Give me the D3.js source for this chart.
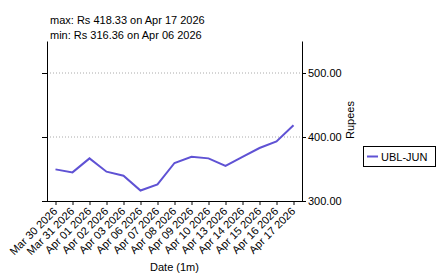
<!DOCTYPE html>
<html>
<head>
<meta charset="utf-8">
<script src="https://cdn.jsdelivr.net/npm/d3@7"></script>
<style>
  body { margin: 0; background: #fff; }
  text { font-family: "Liberation Sans", Arial, sans-serif; }
</style>
</head>
<body>
<div id="chart"></div>
<script>
// data
var dates = ['Mar 30 2026', 'Mar 31 2026', 'Apr 01 2026', 'Apr 02 2026', 'Apr 03 2026',
    'Apr 06 2026', 'Apr 07 2026', 'Apr 08 2026', 'Apr 09 2026', 'Apr 10 2026',
    'Apr 13 2026', 'Apr 14 2026', 'Apr 15 2026', 'Apr 16 2026', 'Apr 17 2026'];
var prices = [349.4, 344.7, 366.6, 345.8, 339.5, 316.36, 325.9, 359.4, 369.2, 366.6,
    354.7, 368.8, 382.8, 393.1, 418.33];
var yTicks = [300, 400, 500];
var seriesName = 'UBL-JUN';
var infoLines = ['max: Rs 418.33 on Apr 17 2026', 'min: Rs 316.36 on Apr 06 2026'];

var width = 438, height = 275;
var margin = { top: 41, left: 47, right: 136, bottom: 74 };
var plotW = width - margin.left - margin.right;
var plotH = height - margin.top - margin.bottom;
var lineColor = '#5f52d4';

var svg = d3.select('#chart').append('svg')
    .attr('width', width)
    .attr('height', height);

var xScale = d3.scalePoint()
    .domain(dates)
    .range([margin.left, margin.left + plotW])
    .padding(0.5);

var yScale = d3.scaleLinear()
    .domain([300, 550])
    .range([margin.top + plotH, margin.top]);

// gridlines
svg.append('g')
    .selectAll('line')
    .data(yTicks.filter(d => d > 300))
    .enter()
    .append('line')
    .attr('x1', margin.left)
    .attr('x2', margin.left + plotW)
    .attr('y1', d => yScale(d))
    .attr('y2', d => yScale(d))
    .attr('stroke', '#aaa')
    .attr('stroke-width', 1)
    .attr('stroke-dasharray', '1,2');

// left axis, ticks only
var gy = svg.append('g')
    .attr('transform', `translate(${margin.left},0)`)
    .call(d3.axisLeft(yScale).tickValues(yTicks).tickSize(5).tickFormat('').tickSizeOuter(0));
gy.select('.domain').attr('stroke', '#000');

// right axis with labels
var gr = svg.append('g')
    .attr('transform', `translate(${margin.left + plotW},0)`)
    .call(d3.axisRight(yScale).tickValues(yTicks).tickSize(4).tickPadding(2).tickSizeOuter(0)
        .tickFormat(d3.format('.2f')));
gr.selectAll('text')
    .style('font-size', '11px')
    .attr('fill', '#000');

// bottom axis
var gx = svg.append('g')
    .attr('transform', `translate(0,${margin.top + plotH})`)
    .call(d3.axisBottom(xScale).tickSize(4).tickSizeOuter(0));
gx.select('.domain').attr('d', `M${margin.left - 5},0.5H${margin.left + plotW}`);
gx.selectAll('text')
    .style('font-size', '11px')
    .attr('fill', '#000')
    .attr('text-anchor', 'end')
    .attr('x', 0)
    .attr('y', 0)
    .attr('dy', 0)
    .attr('transform', 'translate(2,11) rotate(-45)');

// price line
var line = d3.line()
    .x((d, i) => xScale(dates[i]))
    .y(d => yScale(d));

svg.append('path')
    .attr('d', line(prices))
    .attr('fill', 'none')
    .attr('stroke', lineColor)
    .attr('stroke-width', 2);

// info text
svg.selectAll('.info')
    .data(infoLines)
    .enter()
    .append('text')
    .attr('class', 'info')
    .attr('x', 50)
    .attr('y', (d, i) => 24 + i * 15)
    .style('font-size', '11px')
    .text(d => d);

// axis titles
svg.append('text')
    .attr('x', margin.left + plotW / 2)
    .attr('y', 271)
    .attr('text-anchor', 'middle')
    .style('font-size', '11px')
    .text('Date (1m)');

svg.append('text')
    .attr('transform', 'translate(354,120) rotate(-90)')
    .attr('text-anchor', 'middle')
    .style('font-size', '11px')
    .text('Rupees');

// legend
var lg = svg.append('g').attr('transform', 'translate(363,146)');
lg.append('rect')
    .attr('x', 0.5).attr('y', 0.5)
    .attr('width', 72).attr('height', 20)
    .attr('fill', '#fff')
    .attr('stroke', '#000');
lg.append('line')
    .attr('x1', 4).attr('x2', 15)
    .attr('y1', 10.5).attr('y2', 10.5)
    .attr('stroke', lineColor)
    .attr('stroke-width', 2);
lg.append('text')
    .attr('x', 18).attr('y', 14.5)
    .style('font-size', '11px')
    .text(seriesName);
</script>
</body>
</html>
